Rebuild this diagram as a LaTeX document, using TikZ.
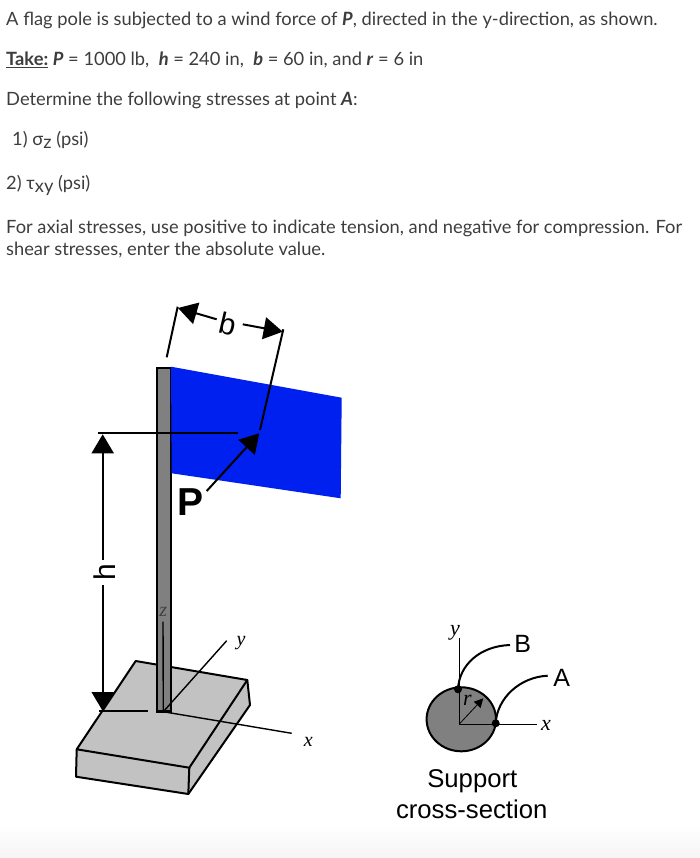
\documentclass[tikz,border=0pt]{standalone}
\usepackage{fontspec}
\setmainfont{Lato}
\newfontfamily\arialf{Liberation Sans}
\newfontfamily\timesf{Liberation Serif}
\usetikzlibrary{arrows.meta}
\definecolor{txt}{gray}{0.24}
\definecolor{flagblue}{RGB}{0,32,240}
\definecolor{polegray}{gray}{0.5}
\definecolor{basegray}{gray}{0.76}
\tikzset{
  body/.style={anchor=base west,inner sep=0pt,text=txt,font=\fontsize{18.3}{22}\selectfont},
  figsans/.style={inner sep=0pt,font=\arialf\fontsize{25.7}{30}\selectfont},
  dimlabel/.style={inner sep=0pt,font=\arialf\fontsize{30}{34}\selectfont},
  ptlabel/.style={inner sep=0pt,font=\arialf\fontsize{25}{28}\selectfont},
  axislabel/.style={inner sep=0pt,font=\timesf\itshape\fontsize{20}{24}\selectfont},
  seclabel/.style={inner sep=0pt,font=\timesf\itshape\fontsize{22}{26}\selectfont},
  ln/.style={draw=black,line width=2pt},
  axisln/.style={draw=black,line width=1.4pt},
  tip/.style={-{Triangle[length=19pt,width=22pt]}}
}
\begin{document}
\begin{tikzpicture}[x=1pt,y=-1pt]
\useasboundingbox (0,0) rectangle (700,858);
\shade[top color=white,bottom color=black!4] (0,825) rectangle (700,858);
% text
\node[body] (t1) at (6,26) {A flag pole is subjected to a wind force of \textbf{\textit{P}}, directed in the y-direction, as shown.};
\node[body] (t2) at (6,66) {\textbf{\underline{Take:}} \textbf{\textit{P}} = 1000 lb,\ \ \textbf{\textit{h}} = 240 in,\ \ \textbf{\textit{b}} = 60 in, and \textbf{\textit{r}} = 6 in};
\node[body] (t3) at (6,106) {Determine the following stresses at point \textbf{\textit{A}}:};
\node[body] (t4) at (12,146) {1) σ\raisebox{-3pt}{z} (psi)};
\node[body] (t5) at (6,190) {2) τ\raisebox{-3pt}{xy} (psi)};
\node[body] (t6) at (6,234) {For axial stresses, use positive to indicate tension, and negative for compression. For};
\node[body] (t7) at (6,255) {shear stresses, enter the absolute value.};
% base
\coordinate (bA) at (135.7,661);
\coordinate (bB) at (247.3,680);
\coordinate (bC) at (189.3,767.7);
\coordinate (bD) at (76.7,749.3);
\coordinate (bE) at (76,776.7);
\coordinate (bF) at (188.3,794);
\coordinate (bG) at (250,705);
\path[fill=basegray] (bA)--(bB)--(bG)--(bF)--(bE)--(bD)--cycle;
\draw[ln,line join=round] (bD)--(bA)--(bB)--(bC)--cycle;
\draw[ln,line join=round] (bD)--(bE)--(bF)--(bC);
\draw[ln,line join=round] (bF)--(bG)--(bB);
% pole
\path[fill=polegray,draw=black,line width=2pt] (156.7,711.7) rectangle (171,368.3);
% flag
\path[fill=flagblue] (171,366.7)--(341.7,397.7)--(340.7,498.3)--(171.7,473.3)--cycle;
% axes
\coordinate (o) at (163.3,711.7);
\coordinate (yEnd) at (226.7,640.7);
\coordinate (xEnd) at (291.7,733.3);
\coordinate (zEnd) at (163,621.7);
\draw[axisln] (o)--(yEnd);
\draw[axisln] (o)--(xEnd);
\draw[axisln] (o)--(zEnd);
\draw[line width=2.5pt] (156.7,711.7)--(171,711.7);
\node[axislabel] (ly) at (241,642.7) {y};
\node[axislabel] (lx) at (308.3,741.7) {x};
\node[axislabel,text=black!75] (lz) at (163.3,611.7) {z};
% h dimension
\coordinate (hTopL) at (98.3,433.3);
\coordinate (hTopR) at (238.3,433.3);
\coordinate (hBotL) at (99.3,711.3);
\coordinate (hBotR) at (148.3,711.3);
\draw[ln] (hTopL)--(hTopR);
\draw[ln] (hBotL)--(hBotR);
\node[dimlabel,rotate=90] (hl) at (104.7,572) {h};
\coordinate (hUp) at (102.7,560);
\coordinate (hDown) at (102.7,585);
\draw[ln,tip] (hUp)--(102.7,434.3);
\draw[ln,tip] (hDown)--(102.7,711);
% b dimension
\coordinate (bL1) at (166.7,357.3);
\coordinate (bL2) at (177.7,306.7);
\coordinate (bR1) at (260,430);
\coordinate (bR2) at (283.3,329.3);
\draw[ln] (bL1)--(bL2);
\draw[ln] (bR1)--(bR2);
\node[dimlabel,rotate=-13] (bl) at (228.3,324) {b};
\draw[ln,tip] (216.7,319.3)--(178,308);
\draw[ln,tip] (242.7,324.3)--(282.7,331.7);
% P
\node[inner sep=0pt,font=\arialf\bfseries\fontsize{39}{42}\selectfont] (Pl) at (190.7,502) {P};
\coordinate (Ptip) at (259.3,433.3);
\coordinate (Pst) at (206.7,491);
\draw[ln,tip] (Pst)--(Ptip);
% section
\coordinate (c) at (459.3,724);
\path[fill=polegray,draw=black,line width=2pt] (461.3,719.3) ellipse [x radius=34.7,y radius=32];
\coordinate (sy) at (459.3,638.3);
\coordinate (sx) at (536.7,724);
\draw[line width=0.8pt] (c)--(sy);
\draw[line width=0.8pt] (c)--(sx);
\draw[line width=0.8pt,-{Triangle[length=9pt,width=9pt]}] (c)--(483.3,698.3);
\node[circle,fill=black,inner sep=0pt,minimum size=8pt] (dA) at (495.7,723.3) {};
\node[circle,fill=black,inner sep=0pt,minimum size=8pt] (dB) at (458,689.3) {};
\node[ptlabel] (lB) at (522.7,644.3) {B};
\node[ptlabel] (lA) at (561.7,678.3) {A};
\draw[ln] (dB.center) .. controls (459,665) and (480,646) .. (510,645);
\draw[ln] (dA.center) .. controls (497,698) and (520,677) .. (547.7,675.7);
\node[seclabel] (sly) at (455,633) {y};
\node[seclabel] (slx) at (546,725) {x};
\node[seclabel] (slr) at (467.3,700) {r};
\node[figsans] (s1) at (472.3,781) {Support};
\node[figsans] (s2) at (471.7,809) {cross-section};
\end{tikzpicture}
\end{document}
